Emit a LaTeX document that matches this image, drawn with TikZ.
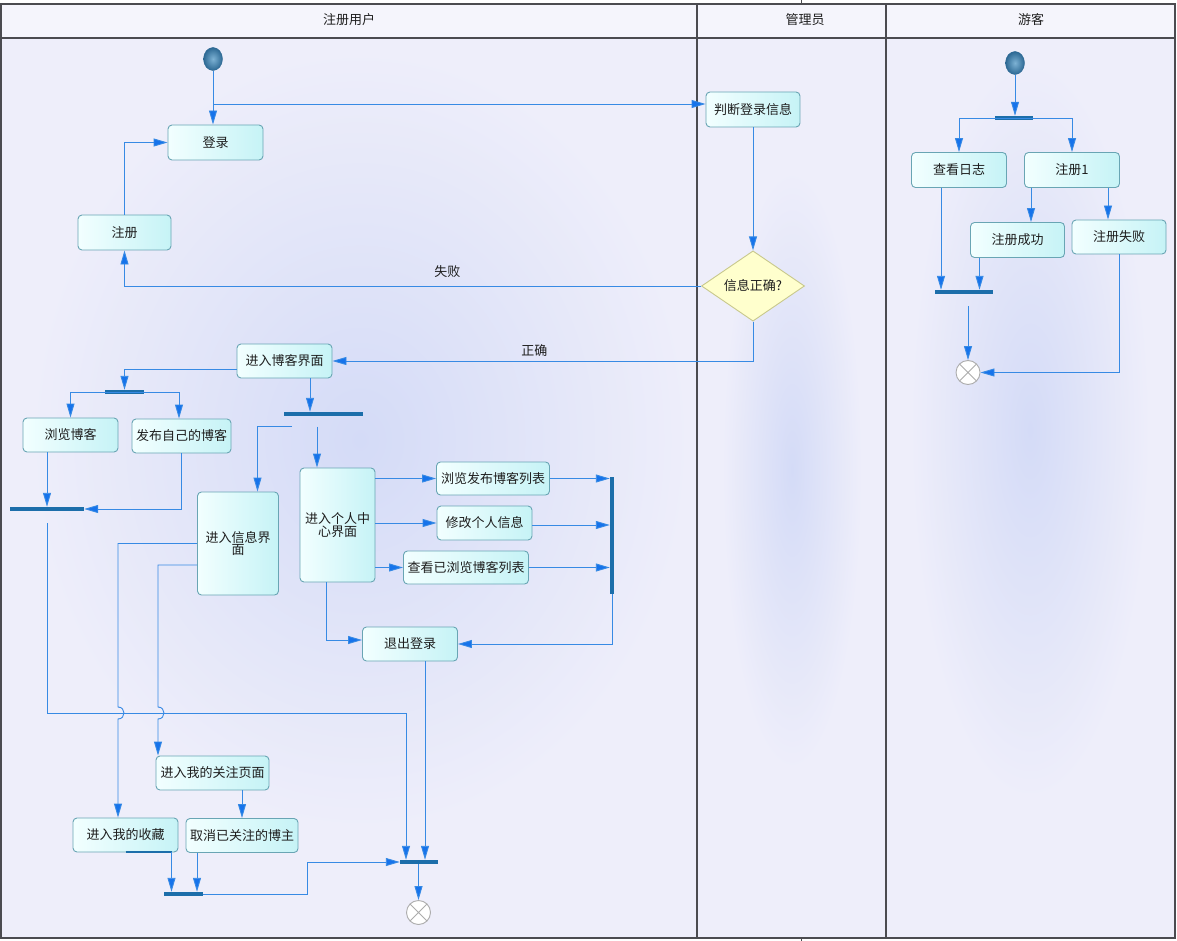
\documentclass[tikz,border=0pt]{standalone}
\usepackage{fontspec}
\newfontfamily\cjk{Noto Sans CJK SC}
\usetikzlibrary{arrows.meta,calc,shapes.geometric}

\definecolor{lanebg}{RGB}{238,238,250}
\definecolor{headbg}{RGB}{245,245,252}
\definecolor{glow}{RGB}{212,219,247}
\definecolor{laneline}{RGB}{75,75,80}
\definecolor{flowblue}{RGB}{55,138,228}
\definecolor{tipblue}{RGB}{22,115,235}
\definecolor{barblue}{RGB}{28,110,170}
\definecolor{boxline}{RGB}{105,165,180}
\definecolor{boxlight}{RGB}{242,255,255}
\definecolor{boxcyan}{RGB}{198,243,246}
\definecolor{decfill}{RGB}{255,255,205}
\definecolor{decline}{RGB}{200,200,140}
\definecolor{startlight}{RGB}{125,178,212}
\definecolor{startdark}{RGB}{45,105,148}
\definecolor{txt}{RGB}{30,30,30}

\tikzset{
  act/.style={draw=boxline, line width=0.9pt, rounded corners=4pt, left color=boxlight, right color=boxcyan, text=txt, inner sep=2pt, align=center},
  choice/.style={diamond, draw=decline, line width=0.9pt, fill=decfill, text=txt, minimum width=103pt, minimum height=67pt, inner sep=0pt},
  syncbar/.style={fill=barblue, inner sep=0pt, minimum height=4pt},
  vsyncbar/.style={fill=barblue, inner sep=0pt, minimum width=4pt},
  flow/.style={draw=flowblue, line width=0.9pt, -{Triangle[length=14pt,width=8pt,fill=tipblue]}},
  startdot/.style={ellipse, draw=startdark, inner color=startlight, outer color=startdark, minimum width=19pt, minimum height=23pt, inner sep=0pt},
  enddot/.style={circle, draw=gray!65, fill=white, line width=0.9pt, minimum size=24pt, inner sep=0pt,
    path picture={\draw[gray!65, line width=0.9pt] (path picture bounding box.north west) -- (path picture bounding box.south east)
      (path picture bounding box.north east) -- (path picture bounding box.south west);}},
}

\begin{document}
\begin{tikzpicture}[x=1pt, y=-1pt, font=\cjk\fontsize{13pt}{12.5pt}\selectfont]
		%%%%% START %%%%%
		\useasboundingbox (0,0) rectangle (1177,941);
		\fill[white] (0,0) rectangle (1177,941);
		\fill[lanebg] (1,4) rectangle (1175,938);
		\fill[headbg] (1,4) rectangle (1175,38);
		\begin{scope}
			\clip (1,38) rectangle (1175,938);
			\shade[inner color=glow, outer color=lanebg] (360,440) ellipse (330 and 390);
			\shade[inner color=glow, outer color=lanebg] (792,470) ellipse (70 and 300);
			\shade[inner color=glow, outer color=lanebg] (1030,430) ellipse (120 and 370);
		\end{scope}
		
		\draw[laneline, line width=1.2pt] (1,4) rectangle (1175,938);
		\draw[laneline, line width=1.2pt] (1,38) -- (1175,38);
		\draw[laneline, line width=1.2pt] (697,4) -- (697,938);
		\draw[laneline, line width=1.2pt] (886,4) -- (886,938);
		\draw[laneline, line width=1pt] (801,0) -- (801,4);
		\draw[laneline, line width=1pt] (801,938) -- (801,941);
		
		\node[text=txt] (hUser) at (349,20) {注册用户};
		\node[text=txt] (hAdmin) at (805,20) {管理员};
		\node[text=txt] (hGuest) at (1031,20) {游客};
		
		% registered user
		\node[startdot] (start1) at (213,59) {};
		\node[act, minimum width=95pt, minimum height=35pt] (login) at (215.5,142.5) {登录};
		\node[act, minimum width=93pt, minimum height=35pt] (reg) at (124.5,232.5) {注册};
		\node[act, minimum width=94pt, minimum height=35pt] (judge) at (753,109.5) {判断登录信息};
		\node[choice] (check) at (753,286) {信息正确?};
		\node[act, minimum width=95pt, minimum height=34pt] (blog) at (284.5,361) {进入博客界面};
		\node[syncbar, minimum width=39pt] (fork1) at (124.5,392) {};
		\node[act, minimum width=95pt, minimum height=34pt] (browse) at (70.5,435) {浏览博客};
		\node[act, minimum width=99pt, minimum height=34pt] (publish) at (181.5,436) {发布自己的博客};
		\node[syncbar, minimum width=74pt] (join1) at (47,509) {};
		\node[syncbar, minimum width=79pt] (fork2) at (323,414) {};
		\node[act, minimum width=81pt, minimum height=103pt] (info) at (238,543.5) {进入信息界\\面};
		\node[act, minimum width=75pt, minimum height=114pt] (mine) at (337.5,525) {进入个人中\\心界面};
		\node[act, minimum width=113pt, minimum height=33pt] (list1) at (493,478.5) {浏览发布博客列表};
		\node[act, minimum width=95pt, minimum height=34pt] (editinfo) at (484.5,523) {修改个人信息};
		\node[act, minimum width=125pt, minimum height=33pt] (history) at (466,567.5) {查看已浏览博客列表};
		\node[vsyncbar, minimum height=117pt] (joinv) at (612,535) {};
		\node[act, minimum width=95pt, minimum height=34pt] (logout) at (410,644) {退出登录};
		\node[act, minimum width=113pt, minimum height=34pt] (follow) at (212.5,773) {进入我的关注页面};
		\node[act, minimum width=105pt, minimum height=34pt] (collect) at (125.5,835) {进入我的收藏};
		\node[act, minimum width=112pt, minimum height=34pt] (cancel) at (242,835.5) {取消已关注的博主};
		\node[syncbar, minimum width=39pt] (join2) at (183,894) {};
		\node[syncbar, minimum width=38pt] (fin) at (419,862) {};
		\node[enddot] (end1) at (418.5,912.5) {};
		\draw[barblue, line width=2pt] (collect.south) -- ([xshift=-6pt]collect.south east);
		
		\coordinate (toJudge) at (213,104);
		\draw[flow] (start1.south) -- (start1.south |- login.north);
		\draw[flow] (toJudge) -- (toJudge -| judge.west);
		\draw[flow] (reg.north) |- (login.west);
		\draw[flow] (judge.south) -- (check.north);
		\draw[flow] (check.west) -| node[pos=0.22, above=5pt, text=txt] {失败} (reg.south);
		\draw[flow] (check.south) |- node[pos=0.76, above=1pt, text=txt] {正确} (blog.east);
		
		\draw[flow] ([yshift=-8pt]blog.west) -| (fork1.north);
		\draw[flow] (fork1.center) -| (browse.north);
		\draw[flow] (fork1.center) -| ([xshift=-2.5pt]publish.north);
		\draw[flow] (browse.south -| join1.north) -- (join1.north);
		\draw[flow] (publish.south) |- (join1.east);
		
		\coordinate (hopRow) at (0,713);
		\coordinate (hopA) at (118,713);
		\coordinate (hopB) at (158,713);
		\draw[flow] ([yshift=-12pt]join1.south) -- (join1.south |- hopRow) -| ([xshift=-13pt]fin.north);
		
		\draw[flow] ([xshift=25.5pt]blog.south) -- ([xshift=25.5pt]blog.south |- fork2.north);
		\draw[flow] ([xshift=-31pt,yshift=-10.5pt]fork2.south) -| ([xshift=19.5pt]info.north);
		\draw[flow] ([xshift=-6pt,yshift=-10.5pt]fork2.south) -- ([xshift=-6pt]fork2.south |- mine.north);
		\draw[flow] (mine.east |- list1.west) -- (list1.west);
		\draw[flow] (mine.east |- editinfo.west) -- (editinfo.west);
		\draw[flow] (mine.east |- history.west) -- (history.west);
		\draw[flow] (list1.east) -- (list1.east -| joinv.west);
		\draw[flow] ([yshift=-2pt]editinfo.east) -- ([yshift=-2pt]editinfo.east -| joinv.west);
		\draw[flow] (history.east) -- (history.east -| joinv.west);
		\draw[flow] (joinv.south) |- (logout.east);
		\draw[flow] ([xshift=-11pt]mine.south) |- ([yshift=4pt]logout.west);
		\draw[flow] ([xshift=15pt]logout.south) -- ([xshift=15pt]logout.south |- fin.north);
		
		\draw[flow] (info.west) -- (info.west -| hopA) -- ([yshift=6pt]hopA) .. controls ([xshift=8pt,yshift=6pt]hopA) and ([xshift=8pt,yshift=-6pt]hopA) .. ([yshift=-6pt]hopA) -- (hopA |- collect.north);
		\draw[flow] ([yshift=-21.5pt]info.west) -- ([yshift=-21.5pt]info.west -| hopB) -- ([yshift=6pt]hopB) .. controls ([xshift=8pt,yshift=6pt]hopB) and ([xshift=8pt,yshift=-6pt]hopB) .. ([yshift=-6pt]hopB) -- (hopB |- follow.north);
		\draw[flow] (follow.south -| cancel.north) -- (cancel.north);
		\draw[flow] ([xshift=46pt]collect.south) -- ([xshift=46pt]collect.south |- join2.north);
		\draw[flow] ([xshift=-45pt]cancel.south) -- ([xshift=-45pt]cancel.south |- join2.north);
		\draw[flow] (join2.east) -- ++(105pt,0) |- (fin.west);
		\draw[flow] (fin.south -| end1.north) -- (end1.north);
		
		% guest
		\node[startdot] (start2) at (1015,63) {};
		\node[syncbar, minimum width=38pt] (fork3) at (1014,118) {};
		\node[act, minimum width=95pt, minimum height=35pt] (viewlog) at (959,170) {查看日志};
		\node[act, minimum width=95pt, minimum height=35pt] (reg1) at (1072,170) {注册1};
		\node[act, minimum width=94pt, minimum height=35pt] (regok) at (1017.5,240) {注册成功};
		\node[act, minimum width=94pt, minimum height=34pt] (regfail) at (1119,237) {注册失败};
		\node[syncbar, minimum width=58pt] (join3) at (964,292) {};
		\node[enddot] (end2) at (968,372.5) {};
		
		\draw[flow] (start2.south) -- (start2.south |- fork3.north);
		\draw[flow] (fork3.center) -| (viewlog.north);
		\draw[flow] (fork3.center) -| (reg1.north);
		\draw[flow] ([xshift=-41pt]reg1.south) -- ([xshift=-41pt]reg1.south |- regok.north);
		\draw[flow] ([xshift=36pt]reg1.south) -- ([xshift=36pt]reg1.south |- regfail.north);
		\draw[flow] ([xshift=-18pt]viewlog.south) -- ([xshift=-18pt]viewlog.south |- join3.north);
		\draw[flow] ([xshift=-38pt]regok.south) -- ([xshift=-38pt]regok.south |- join3.north);
		\draw[flow] ([yshift=-12pt]end2.north |- join3.south) -- (end2.north);
		\draw[flow] (regfail.south) |- (end2.east);
		%%%%% END %%%%%
	\end{tikzpicture}
\end{document}
